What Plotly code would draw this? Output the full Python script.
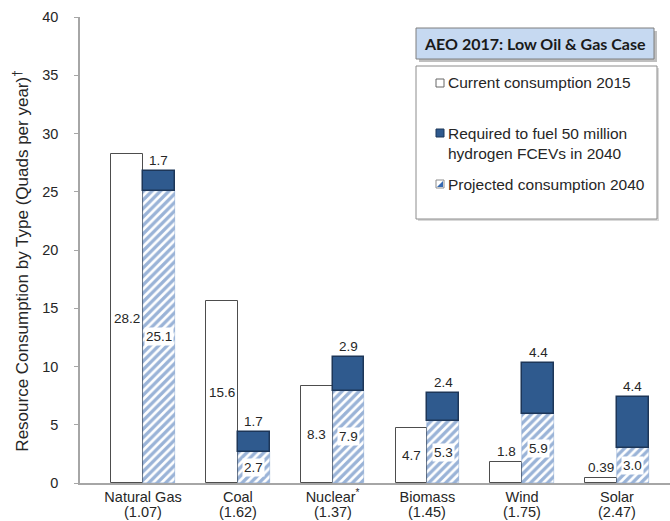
import plotly.graph_objects as go

categories = ["Natural Gas", "Coal", "Nuclear<sup>*</sup>", "Biomass", "Wind", "Solar"]
factors = ["(1.07)", "(1.62)", "(1.37)", "(1.45)", "(1.75)", "(2.47)"]
current_2015 = [28.2, 15.6, 8.3, 4.7, 1.8, 0.39]
projected_2040 = [25.1, 2.7, 7.9, 5.3, 5.9, 3.0]
required_fcev = [1.7, 1.7, 2.9, 2.4, 4.4, 4.4]
label_2015 = ["28.2", "15.6", "8.3", "4.7", "1.8", "0.39"]
label_proj = ["25.1", "2.7", "7.9", "5.3", "5.9", "3.0"]
label_req = ["1.7", "1.7", "2.9", "2.4", "4.4", "4.4"]
yticks = [0, 5, 10, 15, 20, 25, 30, 35, 40]

DARK = "#2F5A8E"
DARK_LINE = "#1D3658"
HATCH = "#3568B0"
TXT = "#262626"
FONT = "Liberation Sans, Arial, sans-serif"

x = list(range(len(categories)))
W = 0.335

fig = go.Figure()
fig.add_trace(go.Bar(
    x=x, y=current_2015, width=W, offset=-W,
    marker=dict(color="white", line=dict(color="#4D4D4D", width=1)),
    name="Current consumption 2015", showlegend=False, hoverinfo="skip"))
fig.add_trace(go.Bar(
    x=x, y=projected_2040, width=W, offset=0,
    marker=dict(color="white", line=dict(color="rgba(53,104,176,0.45)", width=0.6),
                pattern=dict(shape="/", fgcolor=HATCH, bgcolor="white", size=6, solidity=0.55)),
    name="Projected consumption 2040", showlegend=False, hoverinfo="skip"))
fig.add_trace(go.Bar(
    x=x, y=required_fcev, base=projected_2040, width=W, offset=0,
    marker=dict(color=DARK, line=dict(color=DARK_LINE, width=1.5)),
    name="Required to fuel 50 million hydrogen FCEVs in 2040", showlegend=False, hoverinfo="skip"))

ann = []
for i in x:
    c = current_2015[i]
    if c > 3:
        ann.append(dict(x=i - W / 2, y=c / 2, text=label_2015[i], showarrow=False,
                        xref="x", yref="y", bgcolor="white", borderpad=1,
                        font=dict(size=13.5, color=TXT, family=FONT)))
    else:
        ann.append(dict(x=i - W / 2, y=c, text=label_2015[i], showarrow=False,
                        xref="x", yref="y", yanchor="bottom", yshift=1,
                        font=dict(size=13.5, color=TXT, family=FONT)))
    p = projected_2040[i]
    ann.append(dict(x=i + W / 2, y=p / 2, text=label_proj[i], showarrow=False,
                    xref="x", yref="y", bgcolor="white", borderpad=1,
                    font=dict(size=13.5, color=TXT, family=FONT)))
    ann.append(dict(x=i + W / 2, y=p + required_fcev[i], text=label_req[i], showarrow=False,
                    xref="x", yref="y", yanchor="bottom", yshift=1,
                    font=dict(size=13.5, color=TXT, family=FONT)))
    ann.append(dict(x=i, y=0, xref="x", yref="paper", text=factors[i], showarrow=False,
                    yanchor="middle", yshift=-29,
                    font=dict(size=14.5, color=TXT, family=FONT)))

ann.append(dict(x=-0.1, y=0.475, xref="paper", yref="paper", showarrow=False, textangle=-90,
                xanchor="center", yanchor="middle",
                text="Resource Consumption by Type (Quads per year)<sup>†</sup>",
                font=dict(size=17, color=TXT, family=FONT)))

def px_x(p):
    return (p - 80) / 590.0

def px_y(p):
    return (483 - p) / 466.0

shapes = []
shapes.append(dict(type="rect", xref="paper", yref="paper", x0=px_x(419), x1=px_x(657),
                   y0=px_y(62), y1=px_y(31), fillcolor="#BFBFBF", line=dict(width=0), layer="above"))
shapes.append(dict(type="rect", xref="paper", yref="paper", x0=px_x(416), x1=px_x(654),
                   y0=px_y(59), y1=px_y(28), fillcolor="#C6D9F1", line=dict(color="#7F7F7F", width=1),
                   layer="above"))
shapes.append(dict(type="rect", xref="paper", yref="paper", x0=px_x(418), x1=px_x(659),
                   y0=px_y(221), y1=px_y(68), fillcolor="#D9D9D9", line=dict(width=0), layer="above"))
shapes.append(dict(type="rect", xref="paper", yref="paper", x0=px_x(416), x1=px_x(657),
                   y0=px_y(219), y1=px_y(66), fillcolor="white", line=dict(color="#8C8C8C", width=1),
                   layer="above"))
mk = [(83, "white", "#666666"), (133, DARK, DARK_LINE), (184, "#FFFFFF", "#8C8C8C")]
for yc, fill, ln in mk:
    shapes.append(dict(type="rect", xref="paper", yref="paper", x0=px_x(436), x1=px_x(444),
                       y0=px_y(yc + 4), y1=px_y(yc - 4), fillcolor=fill, line=dict(color=ln, width=1),
                       layer="above"))
shapes.append(dict(type="path", xref="paper", yref="paper",
                   path=f"M {px_x(437)},{px_y(187)} L {px_x(443)},{px_y(181)} L {px_x(443)},{px_y(187)} Z",
                   fillcolor=HATCH, line=dict(width=0), layer="above"))

ann.append(dict(x=px_x(535), y=px_y(43.5), xref="paper", yref="paper", showarrow=False,
                text="<b>AEO 2017: Low Oil & Gas Case</b>", xanchor="center", yanchor="middle",
                font=dict(size=16, color="#1A1A1A", family="Lato, Open Sans, sans-serif")))
items = [(83, "Current consumption 2015"),
         (143, "Required to fuel 50 million<br>hydrogen FCEVs in 2040"),
         (184, "Projected consumption 2040")]
for yc, t in items:
    ann.append(dict(x=px_x(446), y=px_y(yc), xref="paper", yref="paper", showarrow=False,
                    text=t, xanchor="left", yanchor="middle", align="left",
                    font=dict(size=15.5, color=TXT, family=FONT)))

fig.update_layout(
    width=670, height=521,
    margin=dict(l=80, r=0, t=17, b=38),
    paper_bgcolor="white", plot_bgcolor="white",
    barmode="overlay", bargap=0,
    showlegend=False,
    annotations=ann, shapes=shapes,
    font=dict(family=FONT, color=TXT),
)
fig.update_xaxes(
    range=[-0.665, 5.56], tickmode="array", tickvals=x, ticktext=categories,
    showline=True, linecolor="#A6A6A6", linewidth=1.5, ticks="", showgrid=False,
    zeroline=False, tickfont=dict(size=14.5, color=TXT, family=FONT), automargin=False,
)
fig.update_yaxes(
    range=[0, 40], tickmode="array", tickvals=yticks,
    showline=True, linecolor="#A6A6A6", linewidth=1.5, ticks="outside", ticklen=4,
    tickcolor="#A6A6A6", showgrid=False, zeroline=False, ticklabelstandoff=13,
    tickfont=dict(size=14.5, color=TXT, family=FONT), automargin=False,
)

fig.write_html("out.html")
